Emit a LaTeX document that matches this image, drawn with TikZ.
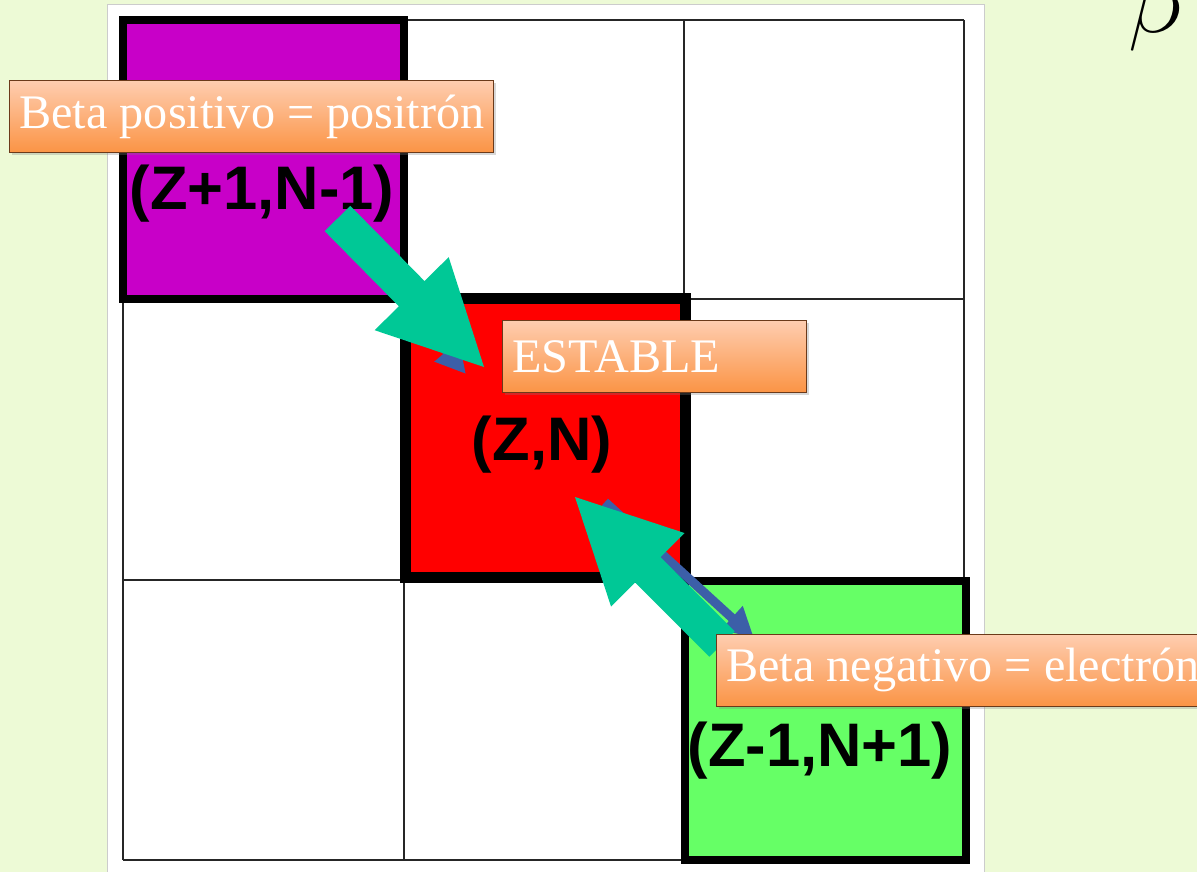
\documentclass[tikz,border=0pt]{standalone}
\usepackage{graphicx}
\usepackage{fontspec}
\setmainfont{Liberation Serif}
\newfontfamily\cellfont{Liberation Sans}
\usetikzlibrary{calc,shadows,arrows.meta}
\definecolor{bg}{HTML}{EDFAD6}
\definecolor{purp}{HTML}{C800C8}
\definecolor{redc}{HTML}{FF0000}
\definecolor{greenc}{HTML}{66FF66}
\definecolor{tealc}{HTML}{00C896}
\definecolor{bluec}{HTML}{3C5FA8}
\definecolor{lbltop}{HTML}{FECDB0}
\definecolor{lblbot}{HTML}{FB9445}
\definecolor{lblborder}{HTML}{6B3A1A}
\tikzset{
  gridline/.style={draw=black!85, line width=1.6pt},
  cellbox/.style={draw=black, line width=8pt, inner sep=0pt, minimum width=281pt, minimum height=279pt},
  celltext/.style={font=\cellfont\bfseries\fontsize{61.5}{62}\selectfont, inner sep=0pt},
  lbl/.style={draw=lblborder, line width=0.8pt, top color=lbltop, bottom color=lblbot,
    text=white, font=\fontsize{48.2}{50}\selectfont, inner xsep=10pt, inner ysep=0pt,
    minimum height=72pt, anchor=north west,
    drop shadow={opacity=0.3, shadow xshift=3pt, shadow yshift=-3pt}},
  tealarrow/.style={fill=tealc},
  bluearrow/.style={draw=bluec, line width=9pt, -{Triangle[length=30pt,width=30pt]}}
}
\newcommand\blockarrow[2]{%
  \coordinate (ba-b) at ($(#2)!103pt!(#1)$);
  \fill[tealarrow] ($(#1)!18pt!90:(#2)$) -- ($(ba-b)!18pt!90:(#2)$) -- ($(ba-b)!52pt!90:(#2)$)
    -- (#2) -- ($(ba-b)!52pt!-90:(#2)$) -- ($(ba-b)!18pt!-90:(#2)$) -- ($(#1)!18pt!-90:(#2)$) -- cycle;}
\begin{document}
\begin{tikzpicture}[x=1pt,y=-1pt]
\useasboundingbox (0,0) rectangle (1197,872);
\fill[bg] (0,0) rectangle (1197,872);
\filldraw[fill=white, draw=black!20, line width=1pt] (107,5) rectangle (984,880);
% grid
\foreach \x in {123,404,684,964} \draw[gridline] (\x,20) -- (\x,860);
\foreach \y in {20,299,580,860} \draw[gridline] (123,\y) -- (964,\y);
% coloured cells
\node[cellbox, fill=purp] (pos) at (263.5,159.5) {};
\node[cellbox, fill=redc, line width=11pt, minimum width=280pt, minimum height=279pt] (est) at (545,438) {};
\node[cellbox, fill=greenc] (neg) at (825,720) {};
\node[celltext] (posT) at (262,194) {(Z+1,N-1)};
\node[celltext] (estT) at (542,445) {(Z,N)};
\node[celltext] (negT) at (820,751) {(Z-1,N+1)};
% blue arrows
\coordinate (b1s) at (345,232);
\coordinate (b1e) at (466,374);
\coordinate (b2s) at (605,502);
\coordinate (b2e) at (754,638);
\draw[bluearrow] (b1s) -- (b1e);
\draw[bluearrow] (b2s) -- (b2e);
% green block arrows
\coordinate (g1t) at (337.5,218.5);
\coordinate (g1p) at (484,367);
\coordinate (g2t) at (722,644);
\coordinate (g2p) at (575,497);
\blockarrow{g1t}{g1p}
\blockarrow{g2t}{g2p}
% labels
\node[lbl] (l1) at (9,80) {\makebox[464pt][l]{Beta positivo = positrón}};
\node[lbl] (l2) at (502,320) {\makebox[284pt][l]{ESTABLE}};
\node[lbl] (l3) at (716,634) {\makebox[600pt][l]{Beta negativo = electrón}};
% beta symbol
\node[anchor=base west, inner sep=0pt] (beta) at (1128,33) {\scalebox{9.6}{$\beta$}};
\end{tikzpicture}
\end{document}
